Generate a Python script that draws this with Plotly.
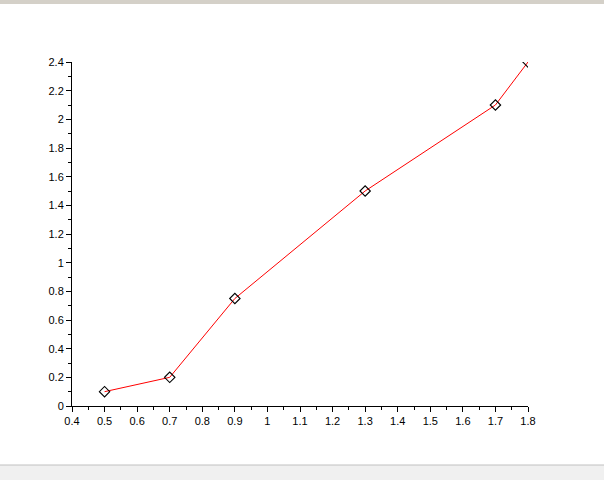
import plotly.graph_objects as go

# Data
x_vals = [0.5, 0.7, 0.9, 1.3, 1.7, 1.8]
y_vals = [0.1, 0.2, 0.75, 1.5, 2.1, 2.4]

W, H = 604, 480
L, R, T, B = 72, 76, 62, 74
PH = H - T - B
PW = W - L - R

def py(pix):
    # convert pixel-from-top to paper y
    return (H - B - pix) / PH

XL = -L / PW
XR = (W - L) / PW

fig = go.Figure()
fig.add_trace(go.Scatter(
    x=x_vals, y=y_vals, mode="lines+markers",
    line=dict(color="red", width=1),
    marker=dict(symbol="diamond-open", size=8, color="black", line=dict(width=1.1, color="black")),
    cliponaxis=True, showlegend=False,
))

fig.update_layout(
    width=W, height=H,
    margin=dict(l=L, r=R, t=T, b=B, pad=0),
    paper_bgcolor="white", plot_bgcolor="white",
    font=dict(family="Liberation Sans, Arial, sans-serif", size=11, color="black"),
    xaxis=dict(range=[0.4, 1.8], dtick=0.1, tick0=0.4, showgrid=False, zeroline=False,
               showline=True, linecolor="black", linewidth=1,
               ticks="outside", ticklen=5, tickcolor="black", tickwidth=1,
               minor=dict(ticks="outside", ticklen=3, dtick=0.05, tickcolor="black", showgrid=False)),
    yaxis=dict(range=[0, 2.4], dtick=0.2, tick0=0, showgrid=False, zeroline=False,
               showline=True, linecolor="black", linewidth=1,
               ticks="outside", ticklen=5, tickcolor="black", tickwidth=1,
               minor=dict(ticks="outside", ticklen=3, dtick=0.1, tickcolor="black", showgrid=False)),
    shapes=[
        dict(type="rect", xref="paper", yref="paper", x0=XL, x1=XR,
             y0=py(4), y1=py(0), fillcolor="#d4d0c8", line=dict(width=0), layer="below"),
        dict(type="rect", xref="paper", yref="paper", x0=XL, x1=XR,
             y0=py(480), y1=py(465), fillcolor="#f0f0f0", line=dict(width=0), layer="below"),
        dict(type="line", xref="paper", yref="paper", x0=XL, x1=XR,
             y0=py(465), y1=py(465), line=dict(color="#c0c0c0", width=1)),
    ],
)

fig.write_html(
    "out.html",
    config={"displayModeBar": False},
    post_script="document.body.style.margin='0';document.body.style.overflow='hidden';",
)
